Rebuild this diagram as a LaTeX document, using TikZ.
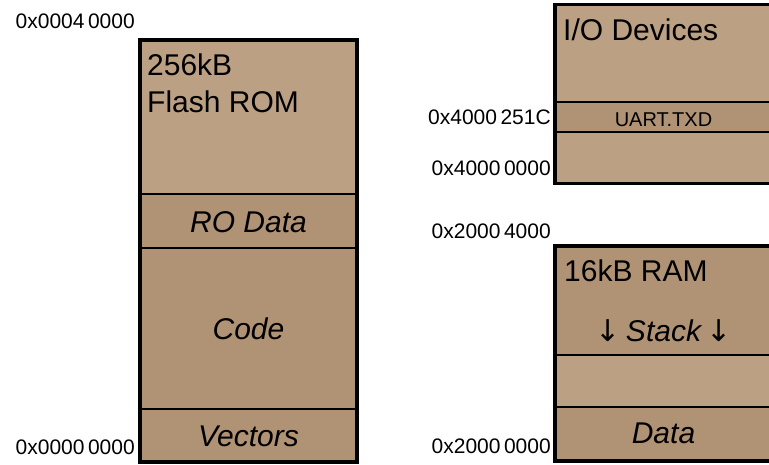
\documentclass[tikz,border=0pt]{standalone}
\usepackage{fontspec}
\setmainfont{Liberation Sans}
\newfontfamily\arrowfont{DejaVu Sans}
\definecolor{tanlight}{HTML}{BCA084}
\definecolor{tandark}{HTML}{B09274}
\newcommand\stackdown{{\arrowfont\upshape\kern-3pt↓\kern-3pt}}
\begin{document}
\begin{tikzpicture}[x=1pt,y=-1pt,
  region/.style={rectangle, draw=black, line width=1.8pt, minimum width=217pt,
                 inner sep=0pt, outer sep=0pt, anchor=north west},
  frame/.style={draw=black, line width=3.5pt},
  addr/.style={font=\fontsize{21}{25}\selectfont, anchor=base east, inner sep=0pt},
  title/.style={font=\fontsize{30}{37.7}\selectfont, anchor=base west, inner sep=0pt},
  part/.style={font=\fontsize{30}{36}\selectfont\itshape, anchor=base, inner sep=0pt},
  reg/.style={font=\fontsize{20}{24}\selectfont, anchor=base, inner sep=0pt}]
\useasboundingbox (0,0) rectangle (769,464);
\clip (0,0) rectangle (769,464);

% Flash ROM
\node[region, fill=tanlight, minimum height=154pt] (rom)     at (140,40)  {};
\node[region, fill=tandark,  minimum height=54pt]  (rodata)  at (140,194) {};
\node[region, fill=tandark,  minimum height=161pt] (code)    at (140,248) {};
\node[region, fill=tandark,  minimum height=53pt]  (vectors) at (140,409) {};
\draw[frame] (rom.north west) rectangle (vectors.south east);

% I/O devices
\node[region, fill=tanlight, minimum height=97.5pt] (iotop) at (555,4.5) {};
\node[region, fill=tandark,  minimum height=30pt]   (uart)  at (555,102) {};
\node[region, fill=tanlight, minimum height=51.5pt] (iobot) at (555,132) {};
\draw[frame] (iotop.north west) rectangle (iobot.south east);

% RAM
\node[region, fill=tandark,  minimum height=109pt] (stack) at (555,246) {};
\node[region, fill=tanlight, minimum height=52pt]  (free)  at (555,355) {};
\node[region, fill=tandark,  minimum height=54pt]  (data)  at (555,407) {};
\draw[frame] (stack.north west) rectangle (data.south east);

% region titles
\node[title] (romtitle)  at (147,75)    {256kB};
\node[title] (romtitle2) at (147,112.7) {Flash ROM};
\node[title] (iotitle)   at (563,40)    {I/O Devices};
\node[title] (ramtitle)  at (564,281.7) {16kB RAM};

% sections
\node[part] (rodatalbl)  at (rodata.center |- 0,232)   {RO Data};
\node[part] (codelbl)    at (code.center |- 0,339.5)   {Code};
\node[part] (vectorslbl) at (vectors.center |- 0,446.7) {Vectors};
\node[part] (stacklbl)   at (stack.center |- 0,341.7)  {\stackdown\ Stack \stackdown};
\node[part] (datalbl)    at (data.center |- 0,443)     {Data};
\node[reg]  (uartlbl)    at (uart.center |- 0,126)     {UART.TXD};

% addresses
\node[addr] (a1) at (135,28)  {0x0004\,0000};
\node[addr] (a2) at (135,454) {0x0000\,0000};
\node[addr] (a3) at (551,124) {0x4000\,251C};
\node[addr] (a4) at (551,175) {0x4000\,0000};
\node[addr] (a5) at (551,238) {0x2000\,4000};
\node[addr] (a6) at (551,453) {0x2000\,0000};
\end{tikzpicture}
\end{document}
